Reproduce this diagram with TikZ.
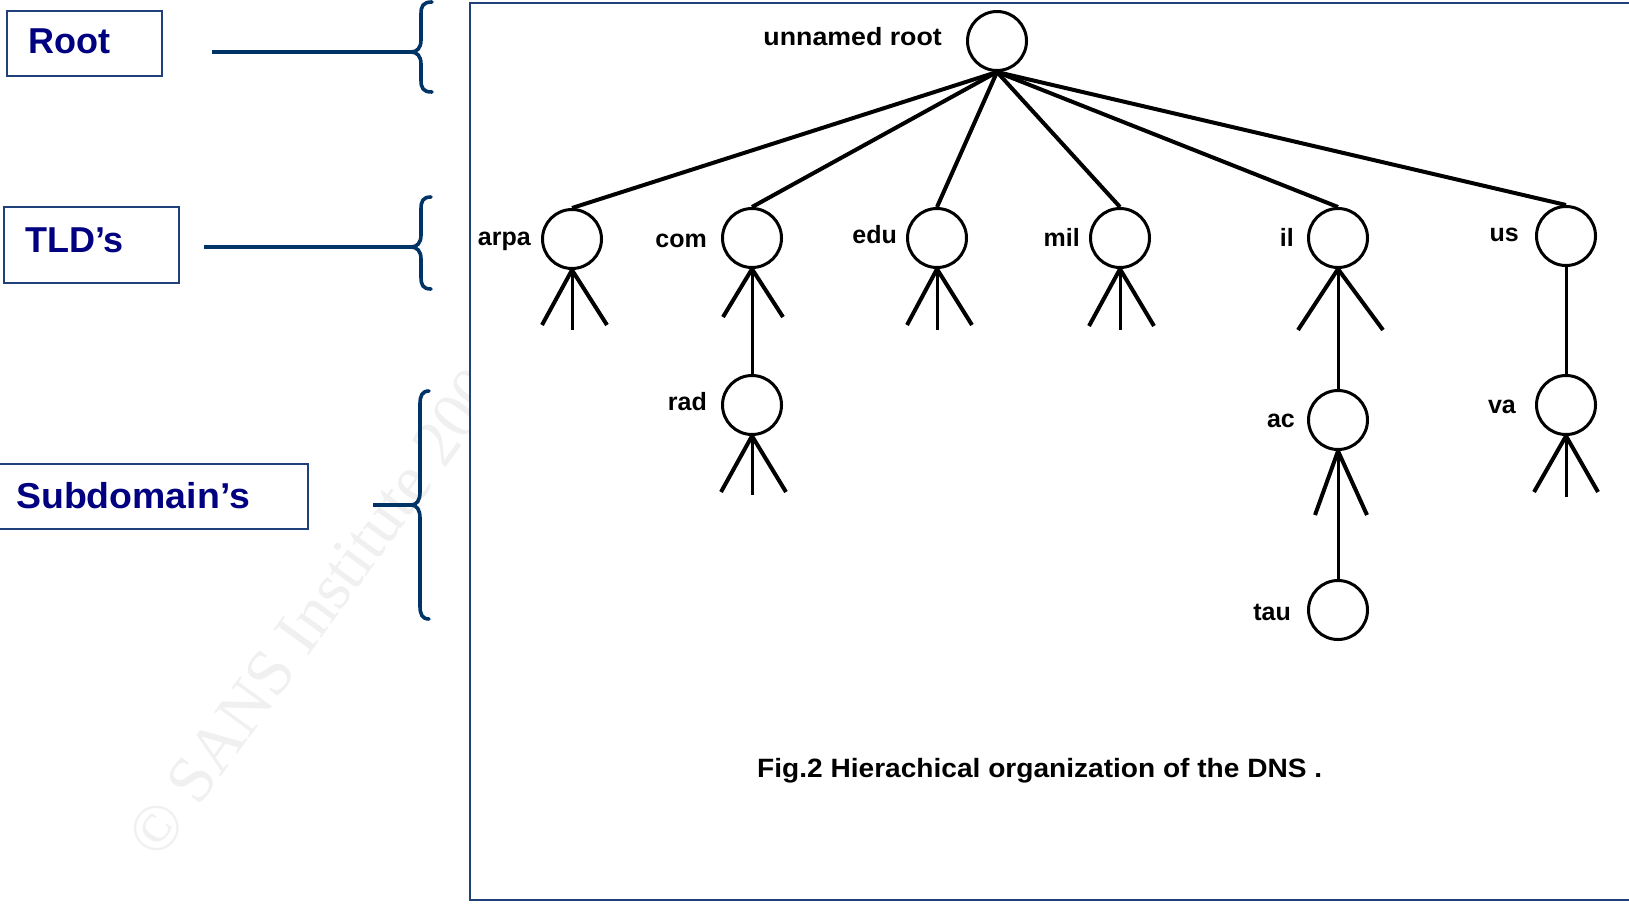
\documentclass[tikz,border=0pt]{standalone}
\usepackage{graphicx}
\usepackage{fontspec}
\setmainfont{Liberation Sans}
\newfontfamily\wmfont{Liberation Serif}
\usetikzlibrary{calc}
\definecolor{navytext}{RGB}{0,0,128}
\definecolor{bracecol}{RGB}{0,51,102}
\definecolor{framecol}{RGB}{31,64,120}
\tikzset{
  dnode/.style={circle, draw, line width=3pt, minimum size=59pt, inner sep=0pt},
  branch/.style={line width=4pt},
  leg/.style={line width=4pt},
  stem/.style={line width=3pt},
  lbl/.style={font=\fontsize{25}{30}\selectfont\bfseries, inner sep=0pt, anchor=base east},
  capstyle/.style={font=\fontsize{26.5}{30}\selectfont\bfseries, inner sep=0pt, anchor=base west},
  box/.style={draw=framecol, line width=2pt, inner sep=0pt, anchor=north west},
  boxtext/.style={font=\fontsize{36}{40}\selectfont\bfseries, text=navytext, inner sep=0pt, anchor=base west},
  bline/.style={draw=bracecol, line width=4pt},
  bracestyle/.style={draw=bracecol, line width=3.6pt, line cap=round},
  wm/.style={font=\wmfont\fontsize{66}{70}\selectfont, text=gray!12, inner sep=0pt, rotate=54},
  framestyle/.style={draw=framecol, line width=2pt, fill=white},
}
\begin{document}
\begin{tikzpicture}[x=1pt,y=-1pt]
\useasboundingbox (0,0) rectangle (1629,903);
\clip (0,0) rectangle (1629,903);
\fill[white] (0,0) rectangle (1629,903);

% watermark
\node[wm] (wmark) at (323,599) {© SANS Institute 2003};

% frame of the figure
\draw[framestyle] (470,3) rectangle (1660,900);

% left side boxes
\node[box, minimum width=155pt, minimum height=65pt] (rootbox) at (6,10) {};
\node[boxtext] (roottxt) at (28,53) {Root};
\node[box, minimum width=175pt, minimum height=76pt] (tldbox) at (3,206) {};
\node[boxtext] (tldtxt) at (25,252) {TLD’s};
\node[box, minimum width=312pt, minimum height=65pt] (subbox) at (-5,463) {};
\node[boxtext] (subtxt) at (16,508) {\scalebox{1.04}[1]{Subdomain’s}};

% connectors to braces
\coordinate (rootA) at (212,52);  \coordinate (rootT) at (411,52);
\coordinate (tldA) at (204,247);  \coordinate (tldT) at (411,247);
\coordinate (subA) at (373,505);  \coordinate (subT) at (411,505);
\draw[bline] (rootA) -- (rootT);
\draw[bline] (tldA) -- (tldT);
\draw[bline] (subA) -- (subT);

% braces
\draw[bracestyle] (432,2) .. controls (423,2) and (421,6) .. (421,14) -- (421,40)
  .. controls (421,48) and (417,52) .. (rootT) .. controls (417,52) and (421,56) .. (421,64)
  -- (421,80) .. controls (421,88) and (423,92) .. (432,92);
\draw[bracestyle] (431,197) .. controls (423,197) and (421,201) .. (421,209) -- (421,235)
  .. controls (421,243) and (417,247) .. (tldT) .. controls (417,247) and (421,251) .. (421,259)
  -- (421,277) .. controls (421,285) and (423,289) .. (431,289);
\draw[bracestyle] (429,391) .. controls (422,391) and (420,396) .. (420,404) -- (420,492)
  .. controls (420,500) and (417,505) .. (subT) .. controls (417,505) and (420,510) .. (420,518)
  -- (420,606) .. controls (420,614) and (422,619) .. (429,619);

% tree nodes
\node[dnode] (root) at (997,41) {};
\node[dnode] (arpa) at (572,239) {};
\node[dnode] (com) at (752,238) {};
\node[dnode] (edu) at (937,238) {};
\node[dnode] (mil) at (1120,238) {};
\node[dnode] (il) at (1338,238) {};
\node[dnode] (us) at (1566,236) {};
\node[dnode] (rad) at (752,405) {};
\node[dnode] (ac) at (1338,420) {};
\node[dnode] (va) at (1566,405) {};
\node[dnode] (tau) at (1338,610) {};

% labels
\node[lbl] (rootlbl) at (942,45) {\scalebox{1.07}[1]{unnamed root}};
\node[lbl] (arpalbl) at (531,245) {arpa};
\node[lbl] (comlbl) at (707,247) {com};
\node[lbl] (edulbl) at (897,243) {edu};
\node[lbl] (millbl) at (1080,246) {mil};
\node[lbl] (illbl) at (1294,246) {il};
\node[lbl] (uslbl) at (1519,241) {us};
\node[lbl] (radlbl) at (707,410) {rad};
\node[lbl] (aclbl) at (1295,427) {ac};
\node[lbl] (valbl) at (1516,413) {va};
\node[lbl] (taulbl) at (1291,620) {tau};

\node[capstyle] (caption) at (757,777) {\scalebox{1.06}[1]{Fig.2 Hierachical organization of the DNS .}};

% branches from root
\foreach \c in {arpa,com,edu,mil,il,us} \draw[branch] (root.south) -- (\c.north);

% vertical links
\draw[stem] (com.south) -- (rad.north);
\draw[stem] (il.south) -- (ac.north);
\draw[stem] (ac.south) -- (tau.north);
\draw[stem] (us.south) -- (va.north);

% legs (free ends)
\coordinate (arpa-l) at (542,325); \coordinate (arpa-m) at (572,330); \coordinate (arpa-r) at (607,325);
\coordinate (com-l) at (723,317);  \coordinate (com-r) at (783,317);
\coordinate (edu-l) at (907,325);  \coordinate (edu-m) at (937,330);  \coordinate (edu-r) at (972,325);
\coordinate (mil-l) at (1089,326); \coordinate (mil-m) at (1120,330); \coordinate (mil-r) at (1154,326);
\coordinate (il-l) at (1298,330);  \coordinate (il-r) at (1383,330);
\coordinate (rad-l) at (721,492);  \coordinate (rad-m) at (752,495);  \coordinate (rad-r) at (786,492);
\coordinate (ac-l) at (1315,515);  \coordinate (ac-r) at (1367,515);
\coordinate (va-l) at (1534,492);  \coordinate (va-m) at (1566,497);  \coordinate (va-r) at (1598,492);

\foreach \c in {arpa,com,edu,mil,il,rad,ac,va} {
  \draw[leg] (\c.south) -- (\c-l);
  \draw[leg] (\c.south) -- (\c-r);
}
\foreach \c in {arpa,edu,mil,rad,va} \draw[stem] (\c.south) -- (\c-m);
\end{tikzpicture}
\end{document}
